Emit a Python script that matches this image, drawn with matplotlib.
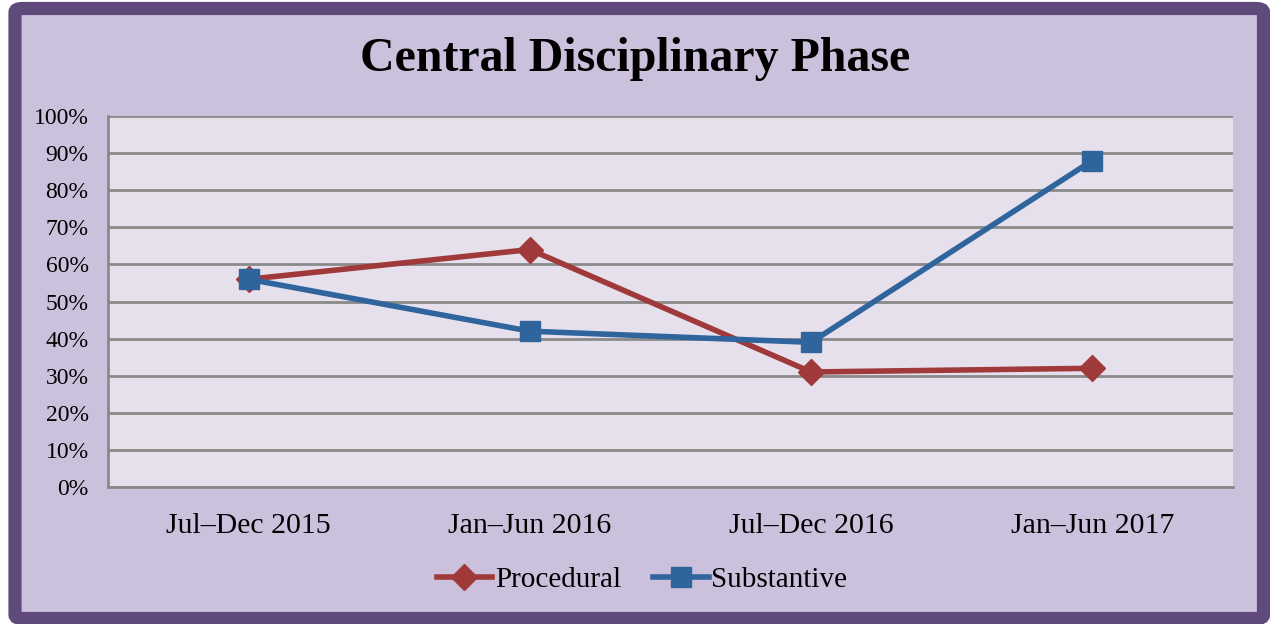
import numpy as np
import matplotlib.pyplot as plt
from matplotlib.patches import FancyBboxPatch

periods = ['Jul\u2013Dec 2015', 'Jan\u2013Jun 2016', 'Jul\u2013Dec 2016', 'Jan\u2013Jun 2017']
procedural = [56, 64, 31, 32]
substantive = [56, 42, 39, 88]

plt.rcParams['font.family'] = ['Liberation Serif', 'DejaVu Serif']

fig = plt.figure(figsize=(12.7, 6.24), dpi=100)
fig.patch.set_facecolor('white')

# purple frame around the whole chart
frame = FancyBboxPatch((15/1270, 5.5/624), 1248.5/1270, 610/624,
                       boxstyle='round,pad=0,rounding_size=0.006',
                       transform=fig.transFigure, facecolor='#CBC1DC',
                       edgecolor='#604A7B', linewidth=9.5, zorder=-10)
fig.patches.append(frame)

ax = fig.add_axes([108/1270, 137/624, 1125/1270, 371/624])
ax.set_facecolor('#E5E0EC')

x = np.arange(len(periods))
ax.plot(x, procedural, color='#A0393A', lw=4, marker='D', ms=13,
        label='Procedural', zorder=3)
ax.plot(x, substantive, color='#2F649D', lw=4, marker='s', ms=15,
        label='Substantive', zorder=4)

ax.set_xlim(-0.5, 3.5)
ax.set_ylim(0, 100)
ax.set_yticks(np.arange(0, 101, 10))
ax.set_yticklabels([f'{v}%' for v in range(0, 101, 10)], fontsize=17)
ax.set_xticks(x)
ax.set_xticklabels(periods, fontsize=21.5)
ax.tick_params(length=0)
ax.tick_params(axis='y', pad=14)
ax.tick_params(axis='x', pad=19)
ax.grid(axis='y', color='#8A8A8A', lw=2)
ax.set_axisbelow(True)
for s in ['top', 'right']:
    ax.spines[s].set_visible(False)
for s in ['left', 'bottom']:
    ax.spines[s].set_color('#8A8A8A')
    ax.spines[s].set_linewidth(2)

fig.text(0.5, 1 - 59/624, 'Central Disciplinary Phase', ha='center', va='center',
         fontsize=34.5, fontweight='bold')

fig.legend(loc='center', bbox_to_anchor=(0.5 + 7/1270, 1 - 580/624), ncol=2, frameon=False,
           fontsize=21, handlelength=1.9, handletextpad=0.1, columnspacing=1.1)

fig.savefig('out.png', dpi=100, facecolor=fig.get_facecolor())
